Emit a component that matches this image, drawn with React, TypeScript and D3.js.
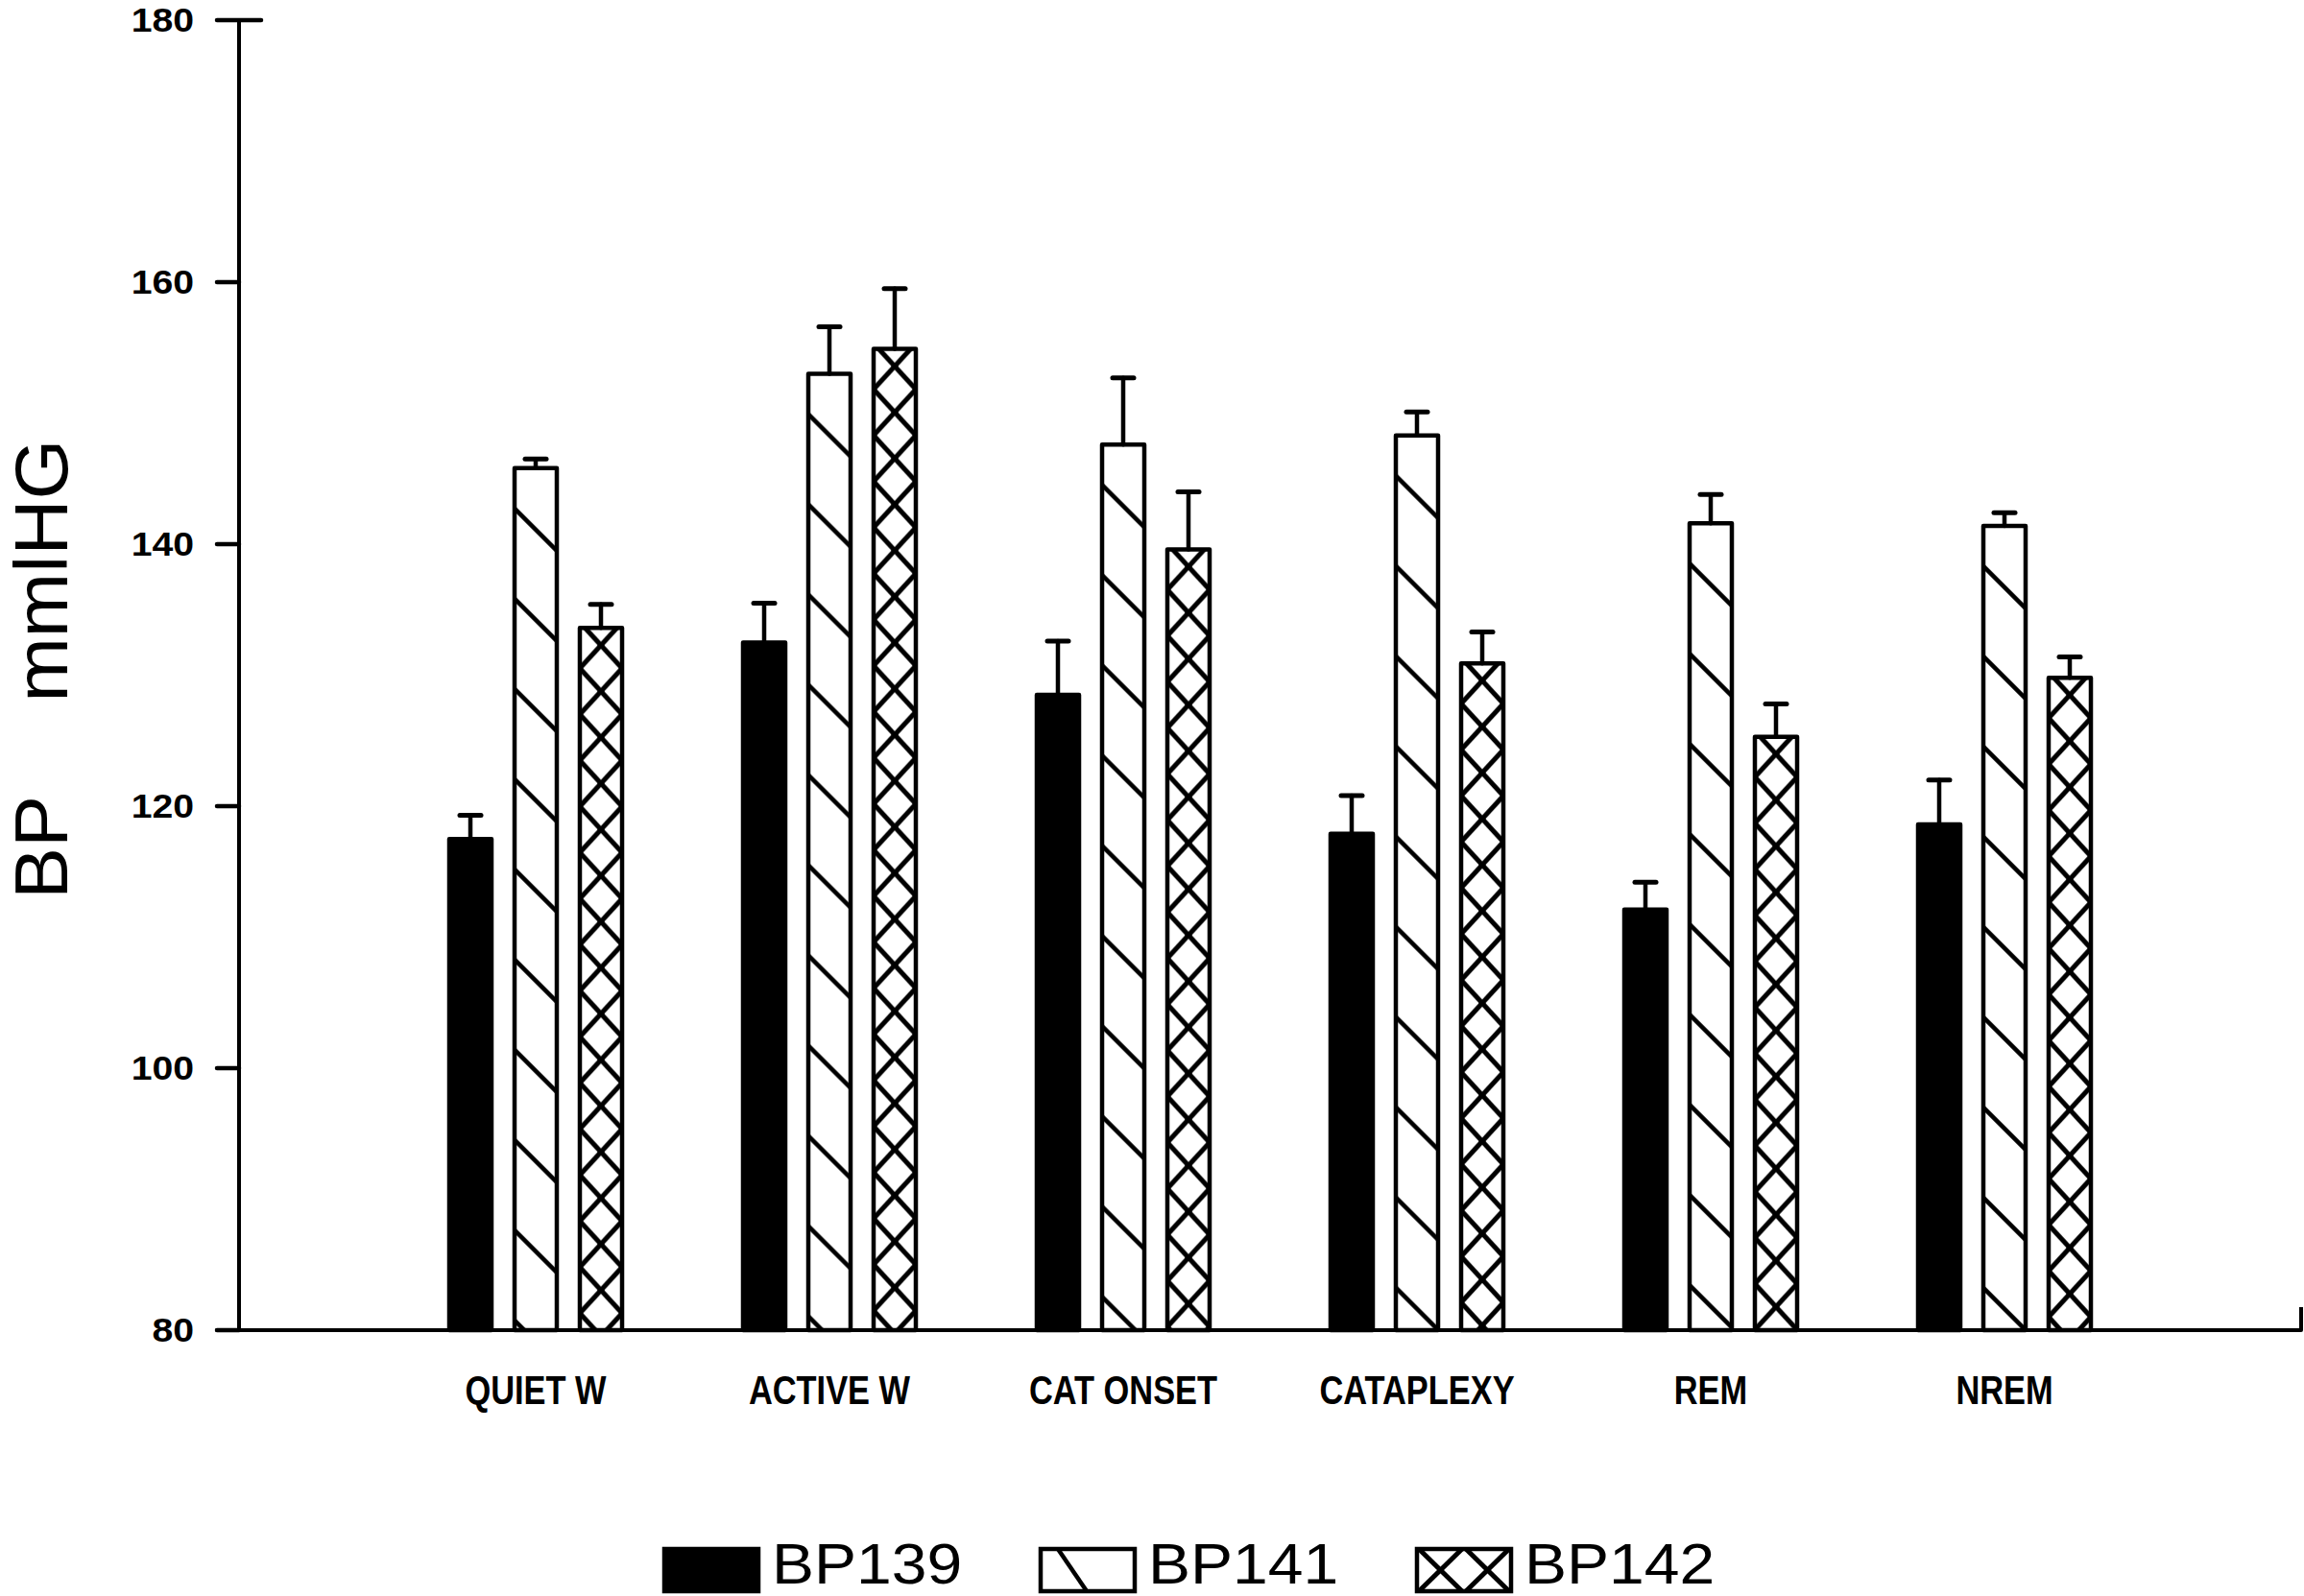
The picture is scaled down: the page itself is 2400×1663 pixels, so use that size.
import React from 'react';
import * as d3 from 'd3';

const categories = ['QUIET W', 'ACTIVE W', 'CAT ONSET', 'CATAPLEXY', 'REM', 'NREM'];
const seriesNames = ['BP139', 'BP141', 'BP142'];
const bp139 = [117.5, 132.5, 128.5, 117.9, 112.1, 118.6];
const bp139Err = [1.8, 3.0, 4.1, 2.9, 2.1, 3.4];
const bp141 = [145.8, 153.0, 147.6, 148.3, 141.6, 141.4];
const bp141Err = [0.7, 3.6, 5.1, 1.8, 2.2, 1.0];
const bp142 = [133.6, 154.9, 139.6, 130.9, 125.3, 129.8];
const bp142Err = [1.8, 4.6, 4.4, 2.4, 2.5, 1.6];
const yTicks = [80, 100, 120, 140, 160, 180];
const yTitleParts = ['BP', 'mmlHG'];

const W = 2400;
const H = 1663;
const AXIS_X = 249;
const SW = 4.5;
const FONT = 'Liberation Sans, Arial, sans-serif';

export default function App() {
  const y = d3.scaleLinear().domain([80, 180]).range([1386, 21]);
  const xGroup = d3.scalePoint<string>().domain(categories).range([558, 558 + 5 * 306]);
  const xSeries = d3.scalePoint<string>().domain(seriesNames).range([-68, 68]);
  const outerW = 48.5;
  const innerW = outerW - SW;

  const values = [bp139, bp141, bp142];
  const errs = [bp139Err, bp141Err, bp142Err];

  const bars: any[] = [];
  seriesNames.forEach((s, si) => {
    categories.forEach((c, ci) => {
      const cx = (xGroup(c) as number) + (xSeries(s) as number);
      const v = values[si][ci];
      const e = errs[si][ci];
      bars.push({ s, si, c, ci, cx, v, e, id: `p-${si}-${ci}` });
    });
  });

  const legendX = d3.scalePoint<string>().domain(seriesNames).range([692, 1476]);
  const legendY = 1614;
  const legendH = 44;
  const legendW = 98;

  return (
    <svg width={W} height={H} style={{ position: 'absolute', left: 0, top: 0, background: 'white' }}>
      <defs>
        {bars.filter(b => b.si === 1).map(b => {
          const top = y(b.v);
          return (
            <pattern key={b.id} id={b.id} patternUnits="userSpaceOnUse"
              x={b.cx - innerW / 2} y={top} width={innerW} height={94}>
              <rect width={innerW} height={94} fill="white" />
              <line x1={-2} y1={40} x2={innerW + 2} y2={88} stroke="black" strokeWidth={4.5} />
            </pattern>
          );
        })}
        {bars.filter(b => b.si === 2).map(b => {
          const top = y(b.v);
          return (
            <pattern key={b.id} id={b.id} patternUnits="userSpaceOnUse"
              x={b.cx - innerW / 2} y={top - 6} width={innerW} height={48}>
              <rect width={innerW} height={48} fill="white" />
              <line x1={0} y1={0} x2={innerW} y2={48} stroke="black" strokeWidth={5} />
              <line x1={innerW} y1={0} x2={0} y2={48} stroke="black" strokeWidth={5} />
            </pattern>
          );
        })}
        <pattern id="legend-cross" patternUnits="userSpaceOnUse"
          x={(legendX('BP142') as number)} y={legendY - 2} width={legendW / 2} height={legendH + 4}>
          <rect width={legendW / 2} height={legendH + 4} fill="white" />
          <line x1={0} y1={0} x2={legendW / 2} y2={legendH + 4} stroke="black" strokeWidth={5} />
          <line x1={legendW / 2} y1={0} x2={0} y2={legendH + 4} stroke="black" strokeWidth={5} />
        </pattern>
      </defs>

      {/* Y axis title */}
      <text transform={`translate(70, 937) rotate(-90) scale(1.05, 1)`} textAnchor="start"
        fontFamily={FONT} fontSize={77} fontWeight={300} fill="black">
        <tspan>{yTitleParts[0]}</tspan>
        <tspan dx={93}>{yTitleParts[1]}</tspan>
      </text>

      {/* Bars */}
      {bars.map(b => {
        const top = y(b.v);
        const fill = b.si === 0 ? 'black' : `url(#${b.id})`;
        return (
          <rect key={'r' + b.id} x={b.cx - innerW / 2} y={top} width={innerW} height={y(80) - top}
            fill={fill} stroke="black" strokeWidth={SW} strokeLinejoin="round" />
        );
      })}

      {/* Error bars */}
      {bars.map(b => {
        const top = y(b.v);
        const et = y(b.v + b.e);
        return (
          <g key={'e' + b.id} stroke="black" strokeWidth={4.5} strokeLinecap="round">
            <line x1={b.cx} x2={b.cx} y1={top} y2={et} />
            <line x1={b.cx - 11} x2={b.cx + 11} y1={et} y2={et} strokeWidth={5} />
          </g>
        );
      })}

      {/* Y axis */}
      <line x1={AXIS_X} x2={AXIS_X} y1={y(180)} y2={y(80)} stroke="black" strokeWidth={4} />
      {yTicks.map(t => (
        <g key={'t' + t}>
          <line x1={226} x2={t === 180 ? 272 : AXIS_X} y1={y(t)} y2={y(t)} stroke="black" strokeWidth={4.5} strokeLinecap="round" />
          <text transform={`translate(202, ${y(t) + 12}) scale(1.12, 1)`} textAnchor="end"
            fontFamily={FONT} fontWeight="bold" fontSize={35} fill="black">
            {t}
          </text>
        </g>
      ))}

      {/* X axis baseline */}
      <line x1={226} x2={2397} y1={y(80)} y2={y(80)} stroke="black" strokeWidth={4} strokeLinecap="round" />
      <line x1={2397} x2={2397} y1={y(80)} y2={y(80) - 24} stroke="black" strokeWidth={4} />

      {/* Category labels */}
      {categories.map(c => (
        <text key={'c' + c} transform={`translate(${xGroup(c)}, 1463) scale(0.8, 1)`} textAnchor="middle"
          fontFamily={FONT} fontWeight="bold" fontSize={43} fill="black">
          {c}
        </text>
      ))}

      {/* Legend */}
      {seriesNames.map((s, si) => {
        const lx = legendX(s) as number;
        return (
          <g key={'l' + s}>
            <rect x={lx} y={legendY} width={legendW} height={legendH}
              fill={si === 0 ? 'black' : si === 1 ? 'white' : 'url(#legend-cross)'}
              stroke="black" strokeWidth={SW} />
            {si === 1 && (
              <line x1={lx + 18} y1={legendY} x2={lx + 48} y2={legendY + legendH} stroke="black" strokeWidth={4.5} />
            )}
            <text transform={`translate(${lx + 112}, 1650) scale(1.1, 1)`} fontFamily={FONT} fontSize={60} fontWeight={300} fill="black">
              {s}
            </text>
          </g>
        );
      })}
    </svg>
  );
}
